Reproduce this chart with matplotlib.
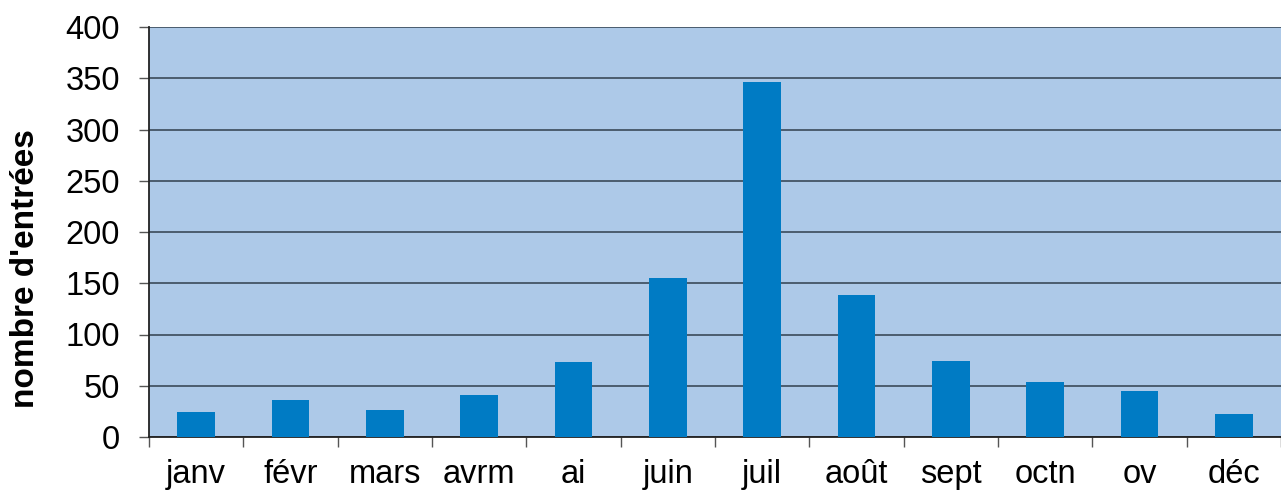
import numpy as np
import matplotlib
matplotlib.use("Agg")
import matplotlib.pyplot as plt

mois = ["janv", "févr", "mars", "avrm", "ai", "juin", "juil", "août",
        "sept", "octn", "ov", "déc"]
entrees = [24, 36, 26, 41, 73, 155, 346, 139, 74, 54, 45, 22]

plt.rcParams['font.family'] = ['Liberation Sans', 'DejaVu Sans']

fig = plt.figure(figsize=(12.81, 4.95), dpi=100)
ax = fig.add_axes([149 / 1281, 58 / 495, 1 - 149 / 1281, 410 / 495])
ax.set_facecolor('#adc9e8')

x = np.arange(len(mois))
ax.bar(x, entrees, width=0.4, color='#007bc4', zorder=3)

ax.set_xlim(-0.5, len(mois) - 0.5)
ax.set_ylim(0, 400)
ax.set_yticks(np.arange(0, 401, 50))
ax.yaxis.grid(True, color='#3a4a5a', linewidth=1.2, zorder=1)

ax.set_xticks(x)
ax.set_xticklabels(mois, fontsize=23.5)
ax.set_xticks(np.arange(-0.5, len(mois), 1), minor=True)
ax.tick_params(axis='x', which='major', length=0, pad=16)
ax.tick_params(axis='x', which='minor', length=7, color='#555555', width=1)
ax.tick_params(axis='y', labelsize=23.5, length=7, color='#555555', width=1, pad=14)

for s in ['top', 'right']:
    ax.spines[s].set_visible(False)
ax.spines['left'].set_color('#222222')
ax.spines['bottom'].set_color('#222222')
ax.spines['left'].set_linewidth(1.3)
ax.spines['bottom'].set_linewidth(1.3)

# le titre de l'axe est un peu plus bas que le centre dans l'original
ax.set_ylabel("nombre d'entrées", fontsize=24, fontweight='bold')
ax.yaxis.set_label_coords(-108 / 1132, 0.41)

fig.savefig("out.png", dpi=100)
